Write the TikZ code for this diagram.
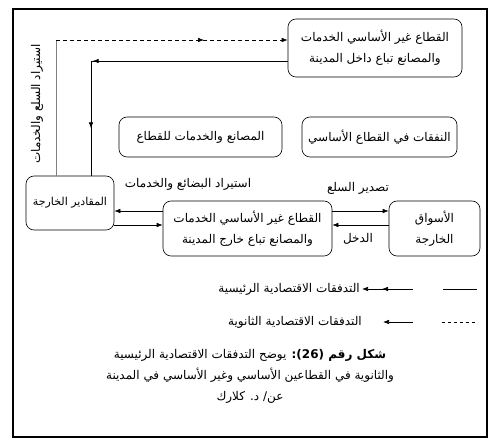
\documentclass[tikz,border=0pt]{standalone}
\usepackage{fontspec}
\newfontfamily\arabicfont[Script=Arabic]{DejaVu Sans}
\TeXXeTstate=1
\usetikzlibrary{arrows.meta,decorations.markings}
\newcommand\artxt[1]{\beginR #1\endR}
\begin{document}
\begin{tikzpicture}[x=1pt,y=-1pt,
  tipA/.tip={Latex[length=6pt,width=4.5pt]},
  box/.style={draw, rounded corners=8pt, line width=0.6pt, align=center, inner sep=0pt,
    font=\arabicfont\fontsize{12}{21}\selectfont},
  lbl/.style={inner sep=0pt, font=\arabicfont\fontsize{12}{14}\selectfont},
  capt/.style={inner sep=0pt, align=center, font=\arabicfont\fontsize{12}{21}\selectfont},
  flow/.style={line width=0.6pt},
  secflow/.style={line width=0.6pt, dash pattern=on 4pt off 3pt},
  markat/.style={postaction={decorate,decoration={markings,mark=at position #1 with {\arrow{tipA}}}}}
]
\useasboundingbox (0,0) rectangle (496,446);
\draw[line width=1.2pt] (13,9) rectangle (487,437);

% boxes
\node[box, minimum width=174pt, minimum height=58pt] (top) at (375,48)
  {\artxt{القطاع غير الأساسي الخدمات}\\\artxt{والمصانع تباع داخل المدينة}};
\node[box, minimum width=163pt, minimum height=40pt] (mfg) at (200.5,137)
  {\artxt{المصانع والخدمات للقطاع}};
\node[box, minimum width=155pt, minimum height=40pt] (exp) at (379.5,137)
  {\artxt{النفقات في القطاع الأساسي}};
\node[box, minimum width=88pt, minimum height=54pt, font=\arabicfont\fontsize{11}{21}\selectfont] (out) at (70,203)
  {\artxt{المقادير الخارجة}};
\node[box, minimum width=169pt, minimum height=55pt] (mid) at (247.5,228.5)
  {\artxt{القطاع غير الأساسي الخدمات}\\\artxt{والمصانع تباع خارج المدينة}};
\node[box, minimum width=91pt, minimum height=55pt] (mkt) at (434.5,228.5)
  {\artxt{الأسواق}\\\artxt{الخارجة}};

% helper coordinates
\coordinate (c1) at (56,40);
\coordinate (c2) at (91,61);
\coordinate (ya) at (0,211);
\coordinate (yb) at (0,225);

% secondary (dashed) flow to top box
\draw[line width=0.4pt, gray] (c1 |- out.north) -- (c1);
\draw[secflow, markat=148pt, -tipA] (c1) -- (c1 -| top.west);
\node[lbl, rotate=90] (imp) at (37,104) {\artxt{استيراد السلع والخدمات}};

% main flow from top box to out
\draw[flow, markat=195pt, markat=264pt] (c2 -| top.west) -- (c2) -- (c2 |- out.north);

% out <-> mid
\draw[flow, -tipA] (mid.west |- ya) -- (out.east |- ya);
\draw[flow, -tipA] (out.east |- yb) -- (mid.west |- yb);
\node[lbl] (impg) at (188,184) {\artxt{استيراد البضائع والخدمات}};

% mid <-> mkt
\draw[flow, -tipA] (mid.east |- ya) -- (mkt.west |- ya);
\draw[flow, -tipA] (mkt.west |- yb) -- (mid.east |- yb);
\node[lbl] (expg) at (358,188) {\artxt{تصدير السلع}};
\node[lbl] (inc) at (358,239) {\artxt{الدخل}};

% legend
\coordinate (l1a) at (443,289);
\coordinate (l1b) at (477,289);
\coordinate (l1c) at (413,289);
\coordinate (l1d) at (362,289);
\draw[flow] (l1a) -- (l1b);
\draw[flow, markat=31pt, -tipA] (l1c) -- (l1d);
\node[lbl, anchor=east] (leg1) at (360,289) {\artxt{التدفقات الاقتصادية الرئيسية}};

\coordinate (l2a) at (442,322);
\coordinate (l2b) at (477,322);
\coordinate (l2c) at (413,322);
\coordinate (l2d) at (383,322);
\draw[line width=0.6pt, dash pattern=on 3pt off 3pt] (l2a) -- (l2b);
\draw[flow, -tipA] (l2c) -- (l2d);
\node[lbl, anchor=east] (leg2) at (362,322) {\artxt{التدفقات الاقتصادية الثانوية}};

% caption
\node[capt] (cap) at (250,376)
  {\artxt{\textbf{شكل رقم \beginL(26)\endL:} يوضح التدفقات الاقتصادية الرئيسية}\\
   \artxt{والثانوية في القطاعين الأساسي وغير الأساسي في المدينة}\\
   \artxt{عن/ د. كلارك}};
\end{tikzpicture}
\end{document}
